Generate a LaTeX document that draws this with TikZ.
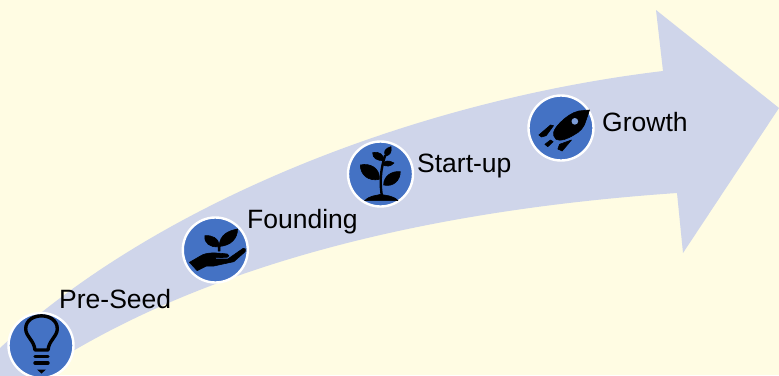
\documentclass[tikz,border=0pt]{standalone}
\usepackage{fontspec}
\setmainfont{Liberation Sans}
\definecolor{bgc}{HTML}{FFFCE3}
\definecolor{arrowc}{HTML}{CFD5EA}
\definecolor{discc}{HTML}{4472C4}
\tikzset{
  x=1pt,y=-1pt,
  disc/.style={circle,draw=white,fill=discc,line width=2.4pt,minimum size=65pt,inner sep=0pt},
  lab/.style={font=\fontsize{26.5pt}{28pt}\selectfont,text=black,inner sep=0pt,anchor=base west},
  ink/.style={fill=black,draw=black,line width=0.6pt,line join=round},
  zoomed/.style={x=0.33333pt,y=-0.33333pt}
}
\begin{document}
\begin{tikzpicture}
\useasboundingbox (0,0) rectangle (779,375);
\fill[bgc] (0,0) rectangle (779,375);
\begin{scope}
\clip (0,0) rectangle (779,375);
\fill[arrowc] (-30,372) -- (0,348) .. controls (160,200) and (420,100) .. (663,71) -- (656,10) -- (779,108) -- (683,253) -- (677,193) .. controls (430,210) and (225,262) .. (73,351) -- (30,380) -- cycle;
\node[disc] (a) at (41,345.5) {};
\node[disc] (b) at (215.3,250) {};
\node[disc] (c) at (380.5,174) {};
\node[disc] (d) at (561,128) {};
% bulb
\draw[black,line width=3.4pt,line join=round] (35,350) .. controls (34,340) and (26,337) .. (25.7,329) .. controls (25.5,311.5) and (57.5,311.5) .. (57.3,329) .. controls (57,337) and (49,340) .. (48,350) -- cycle;
\draw[black,line width=3.4pt,line cap=round] (35,356.5) -- (48,356.5) (35,363) -- (48,363);
\fill[black] (37,369.5) -- (46,369.5) -- (41.5,373.5) -- cycle;
% hand and sprout
\begin{scope}[shift={(170.5,205)},zoomed]
\fill[ink] (57,172) -- (95,150) .. controls (110,143) and (130,142) .. (170,147) .. controls (177,149) and (177,156) .. (170,157) -- (135,158) -- (135,162) -- (172,162) -- (218,130) .. controls (224,128) and (228,134) .. (224,140) -- (190,170) -- (130,183) -- (108,183) -- (80,197) -- cycle;
\fill[ink] (143,138) -- (143,125) .. controls (120,128) and (100,115) .. (103,92) .. controls (125,90) and (145,100) .. (146,120) .. controls (150,90) and (170,78) .. (201,72) .. controls (202,100) and (180,122) .. (149,124) -- (149,138) -- cycle;
\end{scope}
% plant
\begin{scope}[shift={(335.3,130)},zoomed]
\fill[ink] (88,212) .. controls (105,195) and (125,197) .. (136,193) .. controls (150,197) and (172,195) .. (188,212) -- cycle;
\draw[black,line width=2.4pt] (140,200) .. controls (135,165) and (132,130) .. (150,75);
\fill[ink] (132,148) .. controls (100,155) and (75,135) .. (75,105) .. controls (105,98) and (135,115) .. (132,148) -- cycle;
\fill[ink] (145,165) .. controls (145,138) and (170,122) .. (195,125) .. controls (195,150) and (175,172) .. (145,165) -- cycle;
\fill[ink] (145,92) .. controls (125,92) and (112,85) .. (112,68) .. controls (130,62) and (148,75) .. (145,92) -- cycle;
\fill[ink] (152,78) .. controls (142,65) and (150,55) .. (167,50) .. controls (170,65) and (165,75) .. (152,78) -- cycle;
\fill[ink] (143,105) .. controls (147,90) and (160,90) .. (176,99) .. controls (165,110) and (155,110) .. (143,105) -- cycle;
\end{scope}
% rocket
\begin{scope}[shift={(515.5,85)},zoomed]
\fill[ink] (122,163) .. controls (108,150) and (112,135) .. (135,112) .. controls (150,97) and (170,82) .. (190,78) -- (222,75) -- (212,105) .. controls (207,125) and (195,140) .. (175,150) .. controls (155,162) and (135,170) .. (122,163) -- cycle;
\fill[discc!70!white] (178,109) circle[radius=10];
\fill[ink] (70,150) -- (105,120) -- (114,122) -- (92,152) -- (78,156) -- cycle;
\fill[ink] (88,178) -- (105,165) -- (113,170) -- (97,185) -- cycle;
\fill[ink] (127,192) -- (132,178) -- (168,165) -- (140,198) -- cycle;
\end{scope}
\end{scope}
\node[lab] (t1) at (59,308) {Pre-Seed};
\node[lab] (t2) at (247,228) {Founding};
\node[lab] (t3) at (417,172) {Start-up};
\node[lab] (t4) at (602,131) {Growth};
\end{tikzpicture}
\end{document}
